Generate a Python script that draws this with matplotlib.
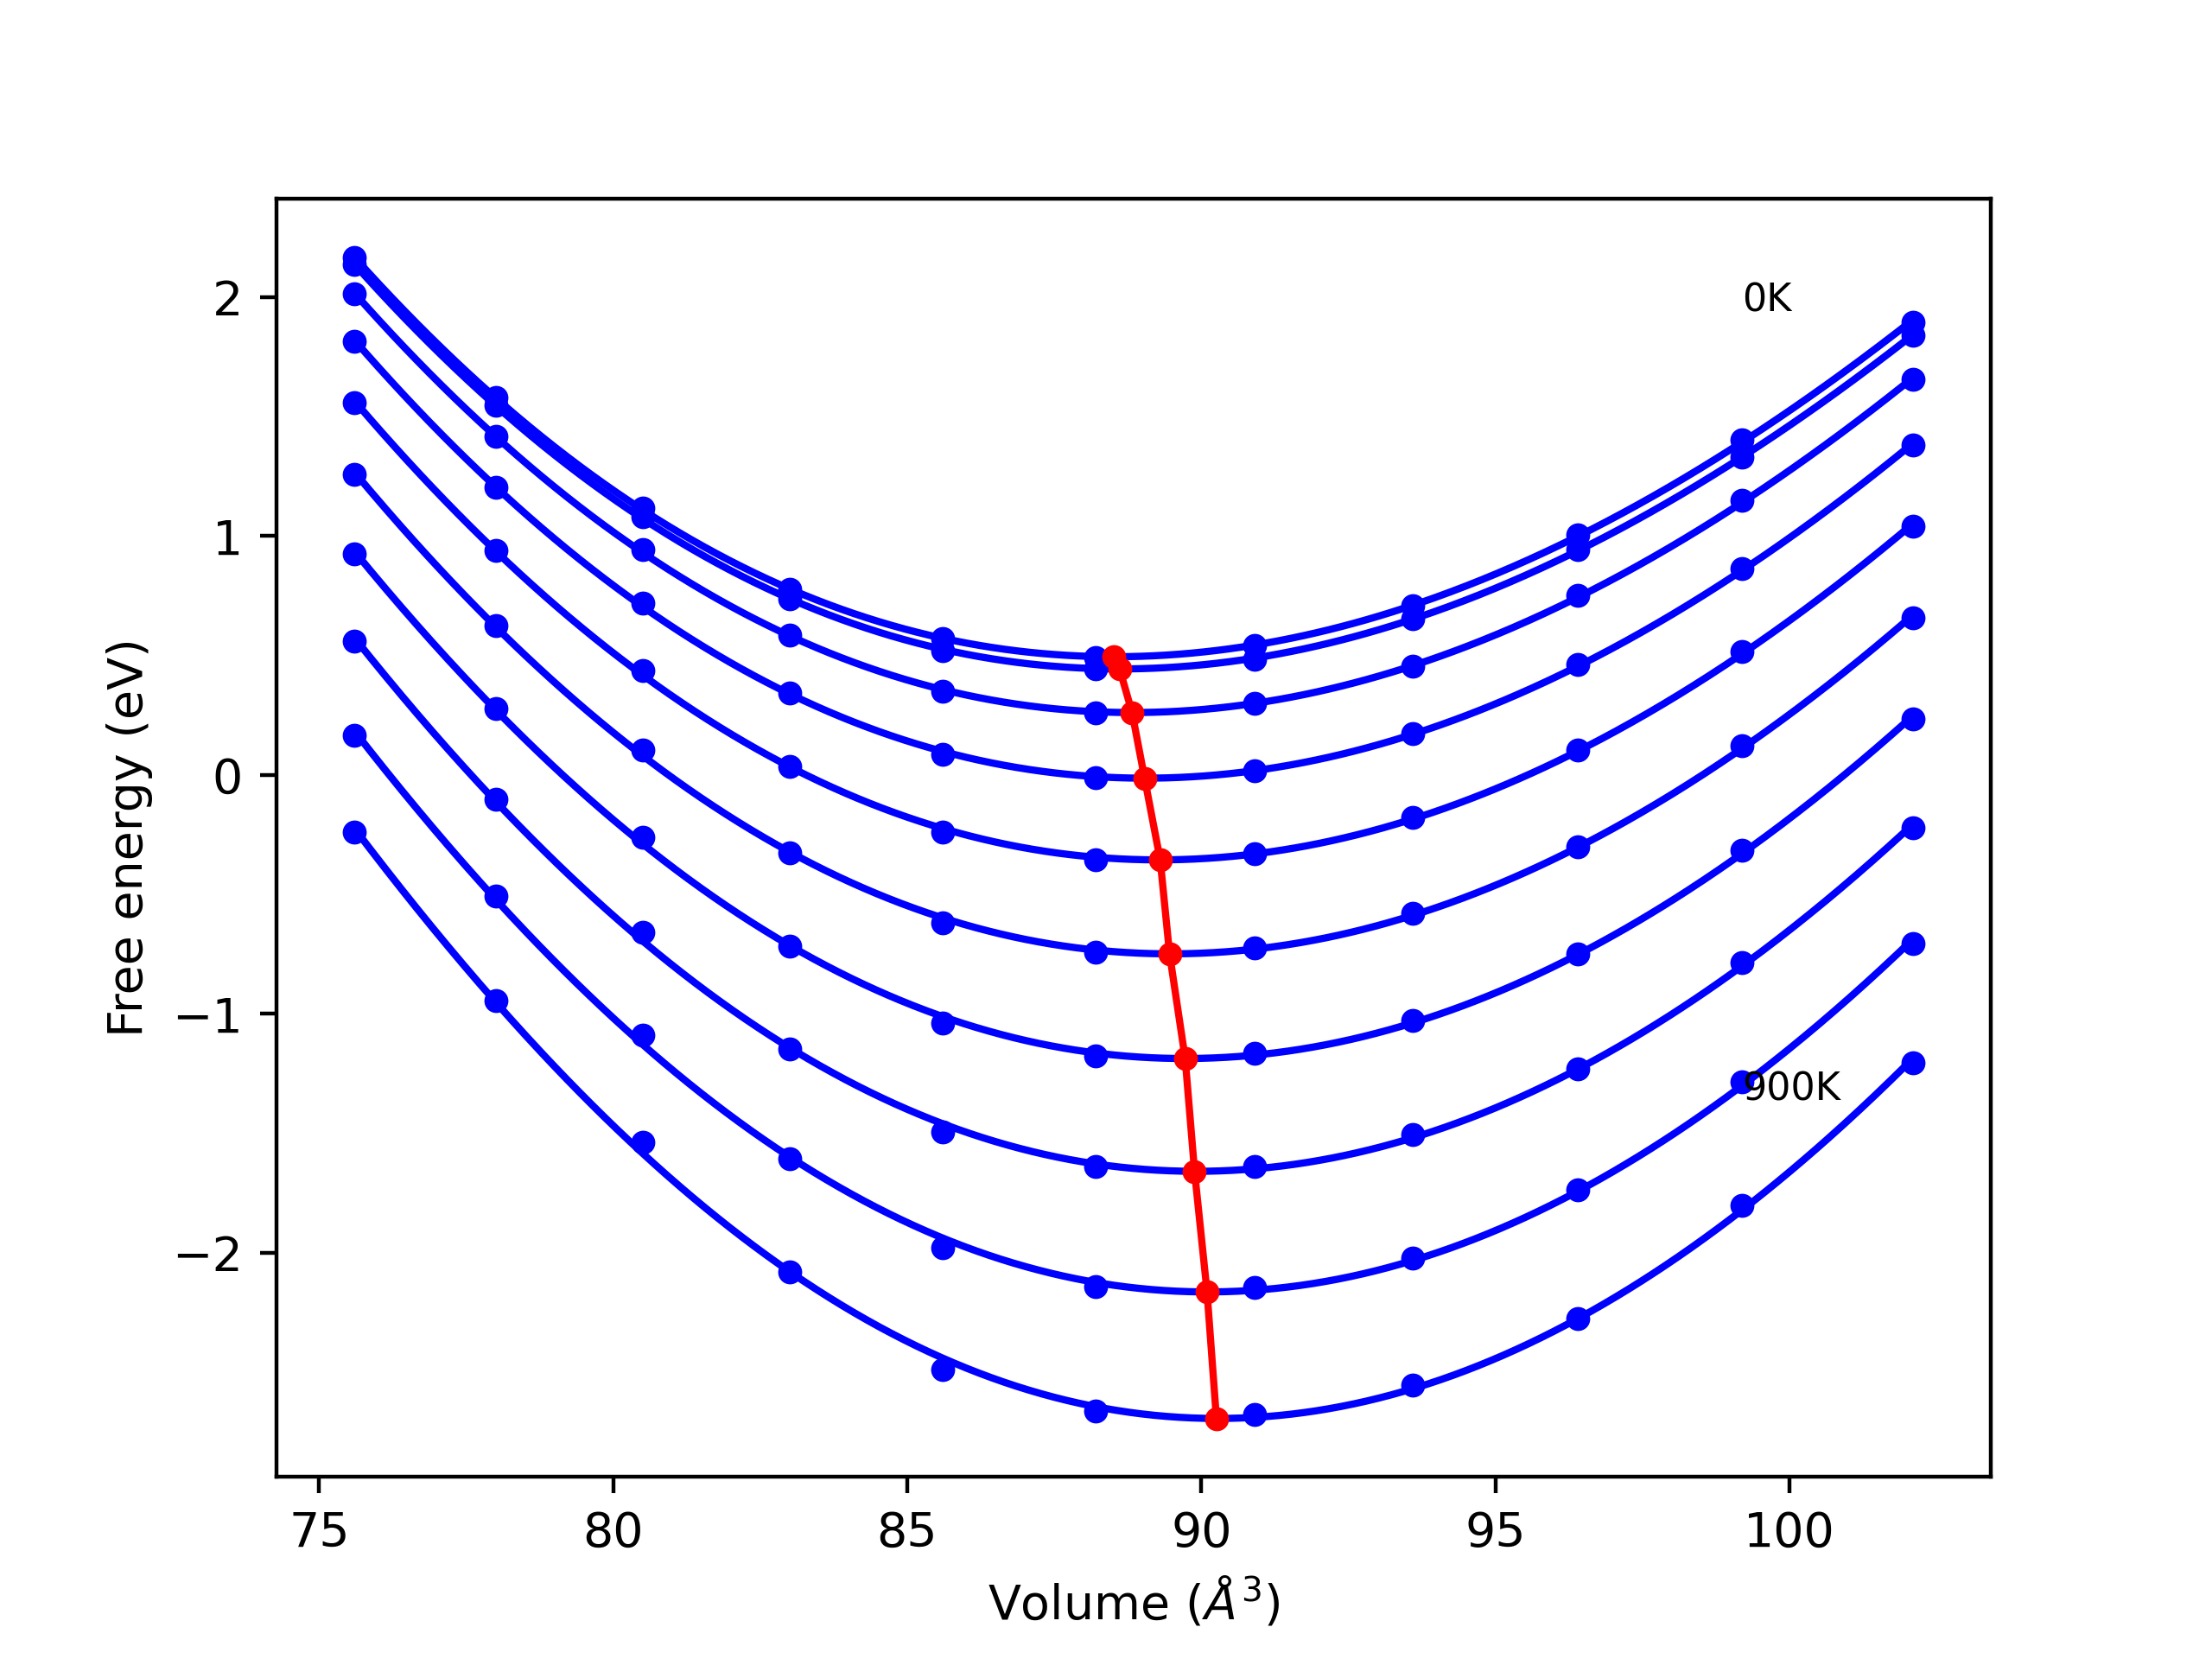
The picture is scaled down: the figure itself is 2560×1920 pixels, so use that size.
import numpy as np
import matplotlib
matplotlib.use("Agg")
import matplotlib.pyplot as plt

# volumes (A^3) and free energies (eV), one row per temperature
volumes = [75.6, 78.0, 80.5, 83.0, 85.6, 88.2, 90.9, 93.6, 96.4, 99.2, 102.1]
temps = [0, 100, 200, 300, 400, 500, 600, 700, 800, 900]

f_0K = [2.164, 1.580, 1.116, 0.778, 0.571, 0.491, 0.541, 0.707, 1.004, 1.404, 1.896]
f_100K = [2.135, 1.548, 1.079, 0.737, 0.520, 0.445, 0.485, 0.655, 0.944, 1.332, 1.839]
f_200K = [2.014, 1.416, 0.942, 0.584, 0.350, 0.259, 0.298, 0.456, 0.751, 1.149, 1.654]
f_300K = [1.816, 1.205, 0.719, 0.342, 0.085, -0.012, 0.018, 0.172, 0.461, 0.864, 1.380]
f_400K = [1.559, 0.939, 0.438, 0.035, -0.240, -0.355, -0.330, -0.178, 0.106, 0.517, 1.041]
f_500K = [1.259, 0.624, 0.106, -0.326, -0.620, -0.741, -0.724, -0.580, -0.300, 0.122, 0.659]
f_600K = [0.926, 0.277, -0.259, -0.716, -1.038, -1.176, -1.164, -1.029, -0.749, -0.315, 0.235]
f_700K = [0.561, -0.103, -0.659, -1.146, -1.494, -1.640, -1.640, -1.506, -1.229, -0.784, -0.221]
f_800K = [0.167, -0.508, -1.087, -1.605, -1.978, -2.140, -2.143, -2.020, -1.737, -1.284, -0.704]
f_900K = [-0.240, -0.943, -1.537, -2.080, -2.487, -2.663, -2.675, -2.552, -2.273, -1.801, -1.205]

energies = [f_0K, f_100K, f_200K, f_300K, f_400K, f_500K, f_600K, f_700K, f_800K, f_900K]

V = np.array(volumes)
vfine = np.linspace(V.min(), V.max(), 500)

fig = plt.figure(figsize=(6.4, 4.8), dpi=400)
ax = fig.add_subplot(111)

vmin_list = []
emin_list = []
for E in energies:
    E = np.array(E)
    # Birch-Murnaghan: cubic in V^(-2/3)
    coef = np.polyfit(V ** (-2.0 / 3.0), E, 3)
    efit = np.polyval(coef, vfine ** (-2.0 / 3.0))
    ax.plot(vfine, efit, color="b", lw=1.5)
    ax.plot(V, E, "o", color="b", ms=4)
    i = np.argmin(efit)
    vmin_list.append(vfine[i])
    emin_list.append(efit[i])

ax.plot(vmin_list, emin_list, "o-", color="r", lw=1.5, ms=4)

ax.text(volumes[-2], 1.94, "0K", fontsize=8)
ax.text(volumes[-2], -1.36, "900K", fontsize=8)

ax.set_xlabel(r"Volume ($Å^3$)")
ax.set_ylabel("Free energy (eV)")

fig.savefig("out.png", dpi=400)
